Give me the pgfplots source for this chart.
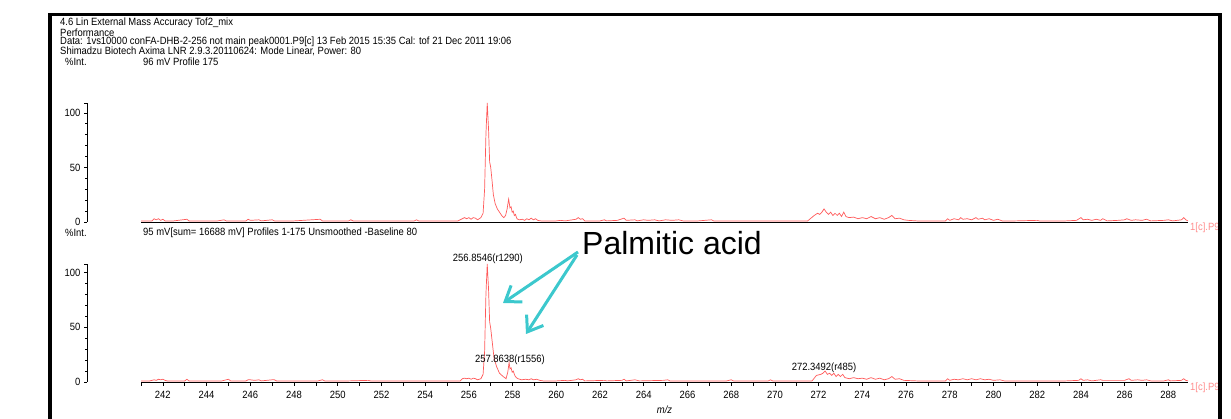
\documentclass[border=0pt]{standalone}
\usepackage{fontspec}
\setmainfont{Liberation Sans}
\newfontfamily\cond[FakeStretch=0.9]{Liberation Sans}
\usepackage{pgfplots}
\pgfplotsset{compat=1.18}
\usetikzlibrary{arrows.meta}
\definecolor{specred}{RGB}{255,90,90}
\definecolor{tagpink}{RGB}{255,140,140}
\definecolor{arrowteal}{RGB}{60,200,205}
\newcommand{\smallfont}{\cond\fontsize{10.5}{10.5}\selectfont}

\pgfplotstableread{
mz int
241.0 1
241.5 1
241.6 3
241.7 2
241.8 3
241.9 1.5
242.0 2.5
242.1 1
242.5 1
243.1 2.5
243.2 1
244.5 1
244.8 2
244.9 1
245.8 1
245.9 2.5
246.0 1.5
246.4 2
246.5 1
247.0 2
247.1 1
248.0 1
249.2 2.5
249.3 1
250.5 1
250.6 2
250.7 1
252.0 1
253.5 1
253.6 2
253.7 1
255.5 1
255.7 3
255.8 4
255.9 3
256.0 4
256.1 2.5
256.2 4
256.3 3.5
256.4 2
256.55 4
256.65 8
256.72 30
256.78 80
256.84 109
256.9 85
256.95 55
257.0 50
257.05 40
257.12 25
257.2 17
257.3 12
257.4 9
257.5 6
257.6 4
257.68 6
257.75 12
257.82 21
257.88 13
257.93 14
257.98 9
258.03 10
258.08 6
258.13 7
258.2 3
258.3 2
258.45 2.5
258.55 1.5
258.65 3
258.75 2
258.85 3.5
258.95 2
259.05 3
259.15 1.5
259.3 1
260.0 1
260.2 1.5
260.4 1
260.9 2.5
261.0 4
261.1 2.5
261.2 3
261.3 1
262.0 1
262.2 2
262.3 1
262.8 1.5
263.1 3.5
263.2 1.5
263.6 2
263.7 1
264.0 2
264.2 1.5
264.5 2
264.7 1
265.0 2
265.3 1.5
265.6 2
265.8 1
266.5 1
267.1 2
267.2 1
268.0 1
270.0 1
271.5 1
271.8 6
271.95 8
272.05 7
272.15 9
272.25 12
272.35 9
272.45 7
272.55 9
272.65 6
272.75 8
272.85 6
272.95 8
273.05 5
273.15 9
273.25 5
273.4 4
273.6 4.5
273.8 3
274.0 4
274.2 3
274.4 5
274.6 3
274.8 4
275.0 2.5
275.2 4
275.35 6
275.5 3
275.7 3.5
275.9 2
276.1 1.5
276.5 1
277.0 1
277.8 1
277.9 3
278.0 1.5
278.2 3
278.4 2
278.5 4
278.6 2.5
278.8 3
279.0 2
279.2 4
279.3 2.5
279.5 3.5
279.6 2
279.8 3
280.0 1.5
280.2 2.5
280.4 1
281.0 1
282.0 1.5
282.1 1
283.3 1
283.8 1.5
284.0 4
284.1 2
284.3 2.5
284.5 1.5
284.7 2.5
284.9 1.5
285.0 3
285.2 1
285.7 1.5
286.0 2
286.1 3
286.3 1.5
286.5 2
286.8 1.5
287.0 2.5
287.2 1
287.8 1.5
288.0 2
288.2 1
288.6 2
288.7 4
288.8 2
288.9 1
}\profile

\pgfplotstableread{
mz int
241.0 1
241.4 1
241.6 2
241.7 1.5
241.8 2.5
241.9 2
242.0 2.5
242.1 1.5
242.2 1
243.0 1
243.1 2.5
243.2 1
244.7 1
244.9 2
245.0 2.5
245.1 1
245.8 1
245.9 2
246.0 2
246.2 1.5
246.4 2
246.5 1
247.0 2
247.1 2
247.2 1
249.1 1
249.3 2
249.4 1
250.5 1
251.4 1.5
251.5 1
253.5 1
255.6 1
255.7 3
255.8 3.5
255.9 3
256.0 3.5
256.1 2.5
256.2 3.5
256.3 3
256.4 2
256.55 3
256.65 7
256.72 28
256.78 80
256.84 108
256.9 85
256.95 55
257.0 49
257.05 40
257.15 22
257.27 14
257.4 8
257.57 5
257.7 3
257.78 9
257.84 18
257.88 12
257.93 13
257.98 9
258.03 10
258.1 6
258.17 4
258.25 3
258.4 2
258.6 2.5
258.75 2
258.85 3
258.95 2
259.1 2.5
259.25 1.5
259.4 1
260.0 1
260.4 1.5
260.5 1
260.9 2
261.0 3
261.1 2
261.2 2.5
261.3 1
262.2 1.5
262.3 1
263.0 1.5
263.1 2.5
263.2 1
263.6 2
263.7 1.5
263.8 1
264.9 1.5
265.1 2
265.2 1
267.8 1
268.0 2
268.1 1
269.7 1
269.8 2
269.9 1
271.7 1
271.9 6
272.1 7
272.2 8
272.3 10
272.4 7
272.5 8
272.6 6
272.7 8
272.8 5
272.9 7
273.0 5
273.1 7
273.2 4
273.4 3
273.6 4
273.8 3
274.0 3.5
274.2 2.5
274.4 4
274.6 2.5
274.8 3.5
275.0 2
275.2 3
275.35 5
275.5 2.5
275.7 3
275.9 1.5
276.5 1
277.8 1
277.9 3
278.0 1.5
278.2 2.5
278.4 2
278.6 3
278.8 2
279.0 3
279.2 2
279.4 3
279.6 2
279.8 2.5
280.0 1.5
280.3 2
280.5 1
281.0 1
283.3 1
283.9 1.5
284.0 3
284.1 1.5
284.3 2
284.5 1
284.9 2
285.0 1.5
286.0 1.5
286.2 3
286.3 1.5
286.6 2
286.8 1.5
287.0 2
287.2 1
287.8 1
288.0 2
288.1 1
288.6 1.5
288.7 3
288.8 1.5
288.9 1
}\summed

\begin{document}
\begin{tikzpicture}[x=1pt,y=1pt]
\path[use as bounding box] (0,0) rectangle (1231,419);

% header
\begin{scope}[every node/.style={inner sep=0pt, anchor=west, font=\smallfont}]
\node at (60,396) {4.6 Lin External Mass Accuracy  Tof2\_mix};
\node at (60,386.5) {Performance};
\node at (60,377) {Data: 1vs10000 conFA-DHB-2-256 not main peak0001.P9[c] 13 Feb 2015 15:35 Cal: tof 21 Dec 2011 19:06};
\node at (60,367.5) {Shimadzu Biotech Axima LNR 2.9.3.20110624: Mode Linear, Power: 80};
\node at (65,357) {\%Int.};
\node at (143,357) {96 mV  Profile 175};
\node at (65,186) {\%Int.};
\node at (143,186) {95 mV[sum= 16688 mV]  Profiles 1-175 Unsmoothed -Baseline 80};
\end{scope}

\pgfplotsset{
  specaxis/.style={scale only axis, width=1047pt, clip=false,
    xmin=241, xmax=288.9, ymin=0,
    axis x line*=bottom, axis y line=none,
    axis line style={black, line width=0.8pt},
    tick align=outside, major tick length=4pt, minor tick length=4pt,
    tick style={black, line width=0.6pt},
    /pgf/number format/assume math mode=true,
    ticklabel style={font=\smallfont}},
  yonly/.style={scale only axis, width=1pt, xmin=0, xmax=1, ymin=0,
    axis y line*=left, axis x line=none,
    axis line style={black, line width=0.8pt},
    tick align=outside, major tick length=3pt, minor tick length=2pt,
    tick style={black, line width=0.6pt},
    minor ytick={10,20,30,40,60,70,80,90},
    /pgf/number format/assume math mode=true,
    ticklabel style={font=\smallfont}},
}

% upper panel
\begin{axis}[specaxis, height=119pt, ymax=109, at={(141pt,197pt)}, anchor=south west,
  xtick=\empty]
\addplot[specred, line width=0.7pt] table[x=mz, y=int] {\profile};
\end{axis}
\begin{axis}[yonly, height=119pt, ymax=109, at={(87pt,197pt)}, anchor=south west,
  ytick={0,50,100,109}, yticklabels={0,50,100,{}}]
\addplot[draw=none] coordinates {(0,0) (1,1)};
\end{axis}

% lower panel
\begin{axis}[specaxis, height=118pt, ymax=108, at={(141pt,37pt)}, anchor=south west,
  xtick={242,244,...,288}, minor xtick={241,243,...,289},
  xticklabel style={yshift=-2pt},
  xlabel={\textit{m/z}}, xlabel style={font=\smallfont, yshift=0pt}]
\addplot[specred, line width=0.7pt] table[x=mz, y=int] {\summed};
\node[font=\smallfont, inner sep=0pt] at (axis cs:256.87,113) {256.8546(r1290)};
\node[font=\smallfont, inner sep=0pt] at (axis cs:257.88,20) {257.8638(r1556)};
\node[font=\smallfont, inner sep=0pt] at (axis cs:272.25,13) {272.3492(r485)};
\end{axis}
\begin{axis}[yonly, height=118pt, ymax=108, at={(87pt,37pt)}, anchor=south west,
  ytick={0,50,100,108}, yticklabels={0,50,100,{}}]
\addplot[draw=none] coordinates {(0,0) (1,1)};
\end{axis}

% tags at right
\node[anchor=west, inner sep=0pt, text=tagpink, font=\smallfont] at (1190,191) {1[c].P9};
\node[anchor=west, inner sep=0pt, text=tagpink, font=\smallfont] at (1190,31) {1[c].P9};

% annotation
\node[anchor=west, inner sep=0pt, font=\fontsize{32}{32}\selectfont] at (582,176) {Palmitic acid};
\draw[arrowteal, line width=3pt, -{Straight Barb[length=14pt,width=20pt]}] (578,167) -- (503,116);
\draw[arrowteal, line width=3pt, -{Straight Barb[length=14pt,width=20pt]}] (577,164) -- (526,85);

% frame
\fill[white] (1218,0) rectangle (1231,419);
\fill[black] (48,0) rectangle (52,406);
\fill[black] (48,403) rectangle (1222,406);
\fill[black] (1218,0) rectangle (1222,406);
\end{tikzpicture}
\end{document}
